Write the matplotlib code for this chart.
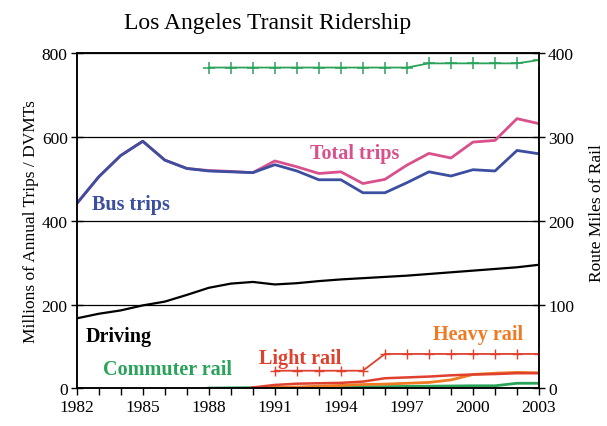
#!/usr/bin/env python3
"""Los Angeles transit ridership, 1982-2003: trips / DVMTs (left) and route miles of rail (right)."""

import matplotlib
matplotlib.use('Agg')
import matplotlib.pyplot as plt
from matplotlib.ticker import MultipleLocator

plt.rcParams['font.family'] = ['Liberation Serif', 'DejaVu Serif']

years = list(range(1982, 2004))

# millions of annual trips / DVMTs (left axis)
bus_trips = [441, 505, 556, 590, 545, 525, 519, 517, 515, 534, 519, 498,
             498, 467, 467, 491, 517, 507, 522, 519, 568, 560]
total_trips = [441, 505, 556, 590, 545, 525, 520, 518, 515, 543, 529, 513,
               517, 489, 499, 533, 561, 550, 588, 592, 644, 632]
driving = [167, 178, 186, 198, 207, 223, 240, 250, 254, 248, 251, 256,
           260, 263, 266, 269, 273, 277, 281, 285, 289, 295]

rail_years = list(range(1990, 2004))
light_rail_trips = [2, 8, 11, 12, 13, 16, 24, 26, 28, 31, 33, 34, 36, 36]
heavy_rail_trips = [1, 2, 3, 5, 7, 9, 10, 12, 14, 20, 33, 36, 38, 37]

commuter_years = list(range(1988, 2004))
commuter_trips = [0.5, 1, 1.5, 2, 2, 2.5, 3, 3.5, 4, 4.5, 5, 5.5, 6, 6, 12, 12]

# route miles of rail (right axis)
commuter_miles = [383, 383, 383, 383, 383, 383, 383, 383, 383, 383,
                  388, 388, 388, 388, 388, 392]
lr_miles_years = list(range(1991, 2004))
light_rail_miles = [21, 21, 21, 21, 21, 41, 41, 41, 41, 41, 41, 41, 41]

BLUE = '#3b4ea0'
PINK = '#d9508c'
GREEN = '#2aa35a'
RED = '#e0402e'
ORANGE = '#f07a22'


def main():
    fig = plt.figure(figsize=(6.07, 4.27), dpi=100)
    ax = fig.add_axes([0.1264, 0.0883, 0.7616, 0.7845])
    ax2 = ax.twinx()

    ax.plot(years, total_trips, color=PINK, lw=2)
    ax.plot(years, bus_trips, color=BLUE, lw=2)
    ax.plot(years, driving, color='black', lw=1.6)
    ax.plot(commuter_years, commuter_trips, color=GREEN, lw=2)
    ax.plot(rail_years, heavy_rail_trips, color=ORANGE, lw=2)
    ax.plot(rail_years, light_rail_trips, color=RED, lw=1.8)

    ax2.plot(commuter_years, commuter_miles, color=GREEN, lw=1.3,
             marker='+', ms=8, mew=1.1)
    ax2.plot(lr_miles_years, light_rail_miles, color=RED, lw=1.3,
             marker='+', ms=7, mew=1.0)

    ax.set_xlim(1982, 2003)
    ax.set_ylim(0, 800)
    ax2.set_ylim(0, 400)
    ax.set_xticks(list(range(1982, 2004, 3)))
    ax.xaxis.set_minor_locator(MultipleLocator(1))
    ax.set_yticks([0, 200, 400, 600, 800])
    ax2.set_yticks([0, 100, 200, 300, 400])
    ax.yaxis.grid(True, color='black', lw=0.9)
    ax.set_axisbelow(True)

    ax.tick_params(axis='x', which='both', direction='out', length=5,
                   width=1, labelsize=12.5, pad=3)
    ax.tick_params(axis='y', direction='inout', length=9, width=1,
                   labelsize=12.5, pad=2)
    ax2.tick_params(axis='y', direction='inout', length=9, width=1,
                    labelsize=12.5, pad=2)
    for a in (ax, ax2):
        for s in a.spines.values():
            s.set_linewidth(1.1)

    ax.set_ylabel('Millions of Annual Trips / DVMTs', fontsize=12.5, labelpad=2)
    fig.text(0.983, 0.50, 'Route Miles of Rail', rotation=90, fontsize=12.5,
             ha='center', va='center')
    fig.text(0.44, 0.945, 'Los Angeles Transit Ridership', fontsize=17,
             ha='center', va='center')

    lbl = dict(fontsize=14.5, fontweight='bold', ha='left', va='center')
    ax.text(1992.6, 563, 'Total trips', color=PINK, **lbl)
    ax.text(1982.7, 439, 'Bus trips', color=BLUE, **lbl)
    ax.text(1982.4, 125, 'Driving', color='black', **lbl)
    ax.text(1983.2, 46, 'Commuter rail', color=GREEN, **lbl)
    ax.text(1990.3, 72, 'Light rail', color=RED, **lbl)
    ax.text(1998.2, 130, 'Heavy rail', color=ORANGE, **lbl)

    fig.savefig('out.png', dpi=100)
    plt.close(fig)


if __name__ == '__main__':
    main()
